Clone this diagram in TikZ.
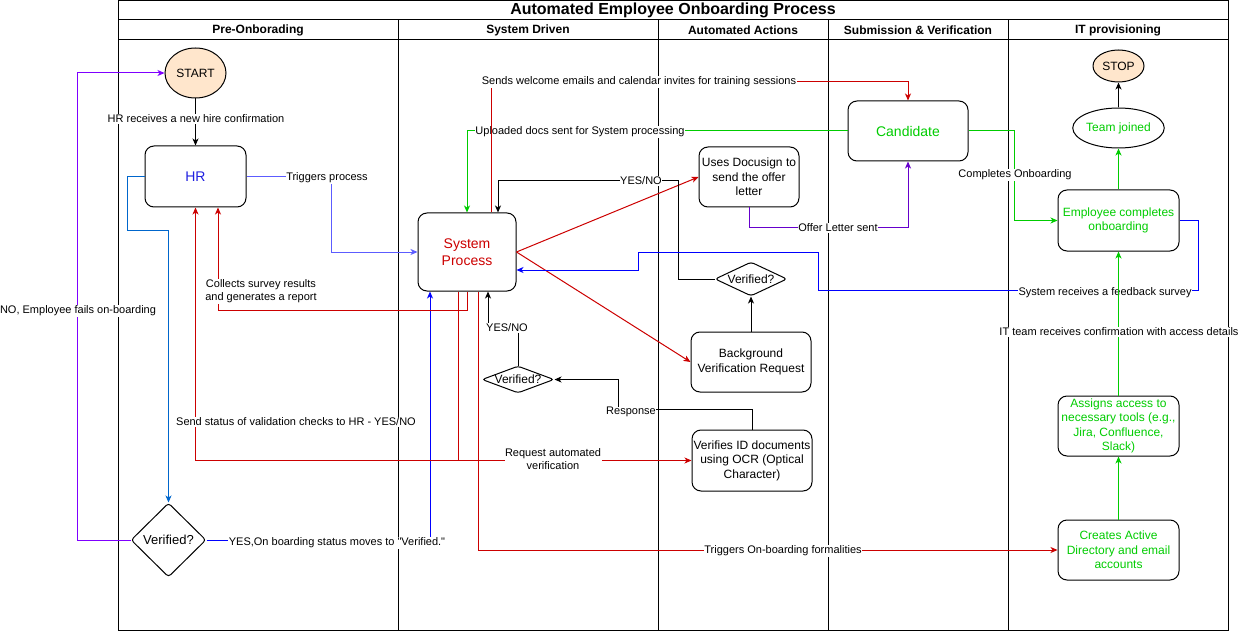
\documentclass[tikz,border=0pt]{standalone}
\usepackage{fontspec}
\setmainfont{Liberation Sans}[Ligatures=TeXOff]
\usetikzlibrary{shapes.geometric,arrows.meta}
\definecolor{peach}{HTML}{FFE6CC}
\definecolor{fred}{HTML}{CC0000}
\definecolor{fgreen}{HTML}{00CC00}
\definecolor{fblue}{HTML}{0000FF}
\definecolor{lblue}{HTML}{5C5CFF}
\definecolor{mblue}{HTML}{0066CC}
\definecolor{hrblue}{HTML}{1F1FE0}
\definecolor{fpurple}{HTML}{7F00FF}
\definecolor{dpurple}{HTML}{6600CC}

\begin{document}
\begin{tikzpicture}[x=1pt,y=-1pt,line width=1pt,>={Stealth[length=7pt,width=6pt,inset=2pt]},
	box/.style={draw,rounded corners=9pt,align=center,inner sep=1pt,font=\fontsize{12}{14.4}\selectfont},
	oval/.style={draw,ellipse,inner sep=0pt,font=\fontsize{12}{14.4}\selectfont},
	dia/.style={draw,diamond,inner sep=0pt,rounded corners=3pt},
	dtxt/.style={inner sep=0pt,font=\fontsize{12}{14.4}\selectfont},
	lbl/.style={fill=white,inner sep=0.5pt,align=center,font=\fontsize{11}{13}\selectfont},
	head/.style={font=\bfseries\fontsize{12}{14}\selectfont}]
	\useasboundingbox (0,0) rectangle (1239,631);

	% lanes
	\draw (118,0.5) rectangle (1228,630);
	\draw (118,20) -- (1228,20);
	\draw (118,40) -- (1228,40);
	\foreach \x in {398,658,828,1008}
		\draw (\x,20) -- (\x,630);
	\node[font=\bfseries\fontsize{16}{18}\selectfont] (title) at (673,10.5) {Automated Employee Onboarding Process};
	\node[head] (hPre) at (258,30.5) {Pre-Onborading};
	\node[head] (hSys) at (528,30.5) {System Driven};
	\node[head] (hAut) at (743,30.5) {Automated Actions};
	\node[head] (hSub) at (918,30.5) {Submission \& Verification};
	\node[head] (hIT) at (1118,30.5) {IT provisioning};

	% nodes
	\node[oval,fill=peach,minimum width=61pt,minimum height=50pt] (start) at (195.5,73) {START};
	\node[box,minimum width=101pt,minimum height=61pt,text=hrblue,font=\fontsize{14}{16}\selectfont] (hr) at (195.5,176.5) {HR};
	\node[box,minimum width=98pt,minimum height=78pt,text=fred,font=\fontsize{14}{17}\selectfont] (sp) at (467,252) {System\\Process};
	\node[box,minimum width=100pt,minimum height=60pt] (docu) at (749,177) {Uses Docusign to\\send the offer\\letter};
	\node[dia,minimum width=72pt,minimum height=34pt,label={[dtxt]center:Verified?}] (vaa) at (751,279) {};
	\node[box,minimum width=120pt,minimum height=60pt] (bgv) at (751,362) {Background\\Verification Request};
	\node[box,minimum width=120pt,minimum height=61pt] (ocr) at (752,460.5) {Verifies ID documents\\using OCR (Optical\\Character)};
	\node[dia,minimum width=72pt,minimum height=27pt,label={[dtxt]center:Verified?}] (vsd) at (518,379.5) {};
	\node[dia,minimum width=75pt,minimum height=74pt,label={[dtxt,font=\fontsize{13}{15}\selectfont]center:Verified?}] (vpo) at (168.5,540) {};
	\node[box,minimum width=120pt,minimum height=60pt,text=fgreen,font=\fontsize{14}{16}\selectfont] (cand) at (908,131) {Candidate};
	\node[oval,fill=peach,minimum width=51pt,minimum height=32pt] (stop) at (1118.5,66) {STOP};
	\node[oval,minimum width=81pt,minimum height=40pt,text=fgreen] (team) at (1118.5,128) {Team joined};
	\node[box,minimum width=121pt,minimum height=61pt,text=fgreen] (emp) at (1118.5,220.5) {Employee completes\\onboarding};
	\node[box,minimum width=121pt,minimum height=60pt,text=fgreen] (acc) at (1118.5,426) {Assigns access to\\necessary tools (e.g.,\\Jira, Confluence,\\Slack)};
	\node[box,minimum width=121pt,minimum height=60pt,text=fgreen] (ad) at (1118.5,550) {Creates Active\\Directory and email\\accounts};

	% taps on System Process
	\coordinate (spB1) at ([xshift=-37pt]sp.south);
	\coordinate (spB2) at ([xshift=-9pt]sp.south);
	\coordinate (spB4) at ([xshift=11pt]sp.south);
	\coordinate (spB5) at ([xshift=21pt]sp.south);
	\coordinate (spT2) at ([xshift=24pt]sp.north);
	\coordinate (spT3) at ([xshift=31pt]sp.north);
	\coordinate (spR) at ([yshift=-18pt]sp.east);

	% start
	\draw[->] (start) -- (hr);
	\node[lbl] (lNew) at (196,119) {HR receives a new hire confirmation};
	% hr
	\draw[lblue,->] (hr.east) -- ++(85,0) |- (sp.west);
	\node[lbl] (lTrig) at (327,178) {Triggers process};
	\draw[mblue,->] (hr.west) -- ++(-17,0) |- (168.5,230) -- (vpo.north);
	% verified (pre-onboarding)
	\draw[fpurple,->] (vpo.west) -- ++(-53,0) |- (start.west);
	\node[lbl] (lNo) at (78,311) {NO, Employee fails on-boarding};
	\draw[fblue,->] (vpo.east) -| (spB1);
	\node[lbl] (lYes) at (337,543) {YES,On boarding status moves to "Verified."};
	% system process
	\draw[fred,->] (sp.south) -- ++(0,19) -| ([xshift=22.5pt]hr.south);
	\node[lbl] (lColl) at (261,291.5) {Collects survey results\\and generates a report};
	\draw[fred,->] (spB2) -- (spB2 |- ocr.west) -| (hr.south);
	\node[lbl] (lStat) at (296,422) {Send status of validation checks to HR - YES/NO};
	\draw[fred,->] (spB2) |- (ocr.west);
	\node[lbl] (lReq) at (553,459) {Request automated\\verification};
	\draw[fred,->] (spB4) |- (ad.west);
	\node[lbl] (lForm) at (783,551) {Triggers On-boarding formalities};
	\draw[fgreen,->] (cand.west) -| (sp.north);
	\node[lbl] (lUp) at (580,132) {Uploaded docs sent for System processing};
	\draw[fred,->] (spT2) -- ++(0,-131) -| (cand.north);
	\node[lbl] (lWel) at (639,82) {Sends welcome emails and calendar invites for training sessions};
	\draw[fred,->] (sp.east) -- (docu.west);
	\draw[fred,->] (sp.east) -- (bgv.west);
	% automated actions
	\draw[dpurple,->] (docu.south) -- ++(0,20) -| (cand.south);
	\node[lbl] (lOff) at (838,228) {Offer Letter sent};
	\draw[->] (bgv.north) -- (vaa.south);
	\draw[->] (vaa.west) -| (678,181) -| (spT3);
	\node[lbl] (lYN1) at (641,181) {YES/NO};
	\draw[->] (ocr.north) -- ++(0,-20) -| (618,379.5) -- (vsd.east);
	\node[lbl] (lResp) at (631,412) {Response};
	\draw[->] (vsd.north) -- ++(0,-38) -| (spB5);
	\node[lbl] (lYN2) at (507,328) {YES/NO};
	% it provisioning
	\draw[fgreen,->] (cand.east) -- ++(46,0) |- (emp.west);
	\node[lbl] (lComp) at (1015,175) {Completes Onboarding};
	\draw[fblue,->] (emp.east) -- ++(19,0) |- (818,290) |- (638,252) |- (spR);
	\node[lbl] (lFb) at (1105,293) {System receives a feedback survey};
	\draw[fgreen,->] (ad.north) -- (acc.south);
	\draw[fgreen,->] (acc.north) -- (emp.south);
	\node[lbl] (lIT) at (1119,332) {IT team receives confirmation with access details};
	\draw[fgreen,->] (emp.north) -- (team.south);
	\draw[->] (team.north) -- (stop.south);
\end{tikzpicture}
\end{document}
